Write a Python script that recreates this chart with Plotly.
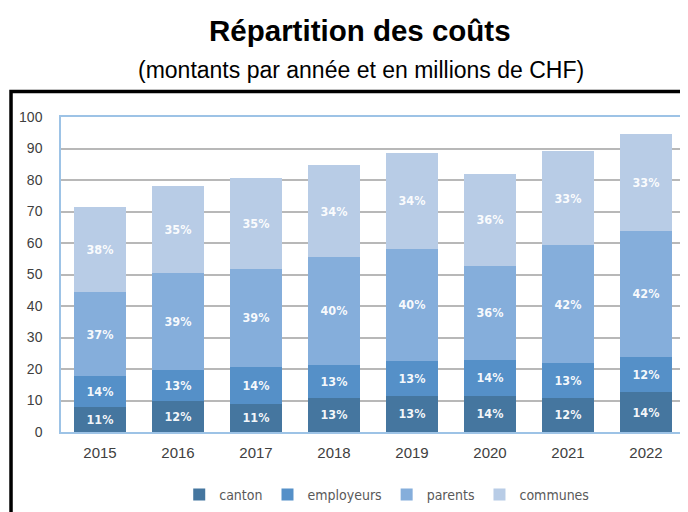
import plotly.graph_objects as go

years = ["2015", "2016", "2017", "2018", "2019", "2020", "2021", "2022"]
canton = [8.0, 9.8, 9.0, 10.8, 11.5, 11.5, 10.9, 12.7]
employeurs = [9.8, 9.8, 11.7, 10.6, 11.0, 11.4, 11.0, 11.2]
parents = [26.6, 30.8, 31.1, 34.2, 35.7, 29.9, 37.4, 40.0]
communes = [26.9, 27.8, 28.7, 29.1, 30.4, 29.2, 29.9, 30.8]

canton_pct = ["11%", "12%", "11%", "13%", "13%", "14%", "12%", "14%"]
employeurs_pct = ["14%", "13%", "14%", "13%", "13%", "14%", "13%", "12%"]
parents_pct = ["37%", "39%", "39%", "40%", "40%", "36%", "42%", "42%"]
communes_pct = ["38%", "35%", "35%", "34%", "34%", "36%", "33%", "33%"]

y_ticks = [0, 10, 20, 30, 40, 50, 60, 70, 80, 90, 100]

series = [
    ("canton", canton, canton_pct, "#45769f"),
    ("employeurs", employeurs, employeurs_pct, "#5590c8"),
    ("parents", parents, parents_pct, "#85aedb"),
    ("communes", communes, communes_pct, "#b8cce6"),
]

NARROW = "Liberation Sans Narrow, DejaVu Sans Condensed, Arial"

fig = go.Figure()
for name, vals, pct, col in series:
    fig.add_trace(go.Bar(
        x=years, y=vals, name=name, text=pct,
        marker=dict(color=col, line=dict(width=0)),
        textposition="inside", insidetextanchor="middle",
        textangle=0,
        texttemplate="<b>%{text}</b>",
        textfont=dict(color="rgba(255,255,255,0.95)", size=12.5, family=NARROW),
        hoverinfo="skip",
    ))

fig.update_layout(
    barmode="stack",
    bargap=0.34,
    width=680, height=504,
    margin=dict(l=53, r=3, t=109, b=80, autoexpand=False),
    paper_bgcolor="white",
    plot_bgcolor="white",
    uniformtext=dict(minsize=12, mode="show"),
    font=dict(family="Liberation Sans, Arial", color="#404040"),
    showlegend=True,
    legend=dict(orientation="h", x=0.522, xanchor="center", y=-0.2, yanchor="middle",
                font=dict(size=14, color="#595959", family=NARROW),
                itemwidth=30, traceorder="normal"),
    xaxis=dict(showgrid=False, showline=True, linecolor="#9dc3e6", linewidth=1.5,
               mirror=True, ticks="", tickfont=dict(size=15, color="#404040"),
               ticklabelstandoff=6),
    yaxis=dict(range=[0, 100], tickvals=y_ticks, showgrid=True, gridcolor="#b8b8b8",
               gridwidth=1.5, showline=True, linecolor="#9dc3e6", linewidth=1.5,
               mirror=True, ticks="", tickfont=dict(size=14, color="#404040"),
               zeroline=False, ticklabelstandoff=14),
    annotations=[
        dict(text="<b>Répartition des coûts</b>", xref="paper", yref="paper",
             x=0.479, y=1.276, xanchor="center", yanchor="middle", showarrow=False,
             font=dict(size=29.5, color="black", family="Liberation Sans, Arial")),
        dict(text="(montants par année et en millions de CHF)", xref="paper", yref="paper",
             x=0.481, y=1.149, xanchor="center", yanchor="middle", showarrow=False,
             font=dict(size=23, color="black", family="Liberation Sans, Arial")),
    ],
    shapes=[
        dict(type="rect", xref="paper", yref="paper",
             x0=-0.0801, x1=1.03, y0=-0.4, y1=1.081,
             line=dict(color="black", width=3.5), fillcolor="rgba(0,0,0,0)", layer="below"),
    ],
)

fig.write_html("out.html")
